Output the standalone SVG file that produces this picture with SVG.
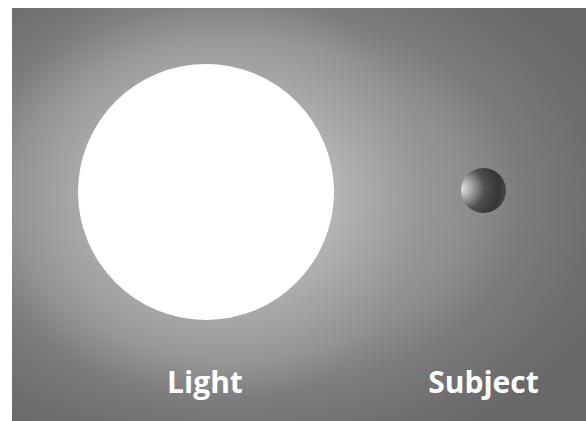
<svg xmlns="http://www.w3.org/2000/svg" width="586" height="421" viewBox="0 0 586 421">
<defs>
<radialGradient id="bg" gradientUnits="userSpaceOnUse" cx="0" cy="0" r="1" gradientTransform="translate(240 200) scale(400 280)">
<stop offset="0" stop-color="#b8b8b8"/>
<stop offset="0.235" stop-color="#a8a8a8"/>
<stop offset="0.405" stop-color="#9a9a9a"/>
<stop offset="0.57" stop-color="#8e8e8e"/>
<stop offset="0.7" stop-color="#7c7c7c"/>
<stop offset="0.89" stop-color="#6e6e6e"/>
<stop offset="1" stop-color="#686868"/>
</radialGradient>
<radialGradient id="halo" gradientUnits="userSpaceOnUse" cx="206" cy="192" r="220">
<stop offset="0.58" stop-color="#ffffff" stop-opacity="0.14"/>
<stop offset="1" stop-color="#ffffff" stop-opacity="0"/>
</radialGradient>
<radialGradient id="ball" cx="0.1" cy="0.45" r="0.95" fx="0.0" fy="0.45">
<stop offset="0" stop-color="#e6e6e6"/>
<stop offset="0.22" stop-color="#a8a8a8"/>
<stop offset="0.5" stop-color="#505050"/>
<stop offset="0.8" stop-color="#363636"/>
<stop offset="1" stop-color="#4a4a4a"/>
</radialGradient>
<style>
.lbl{font-family:"Open Sans","Liberation Sans",sans-serif;font-weight:bold;font-size:30px;fill:#ffffff;}
</style>
</defs>
<rect x="12" y="8" width="574" height="413" fill="url(#bg)"/>
<rect x="12" y="8" width="574" height="413" fill="url(#halo)"/>
<g id="light">
<circle cx="206" cy="192" r="128" fill="#ffffff"/>
<text class="lbl" x="205" y="393" text-anchor="middle">Light</text>
</g>
<g id="subject">
<circle cx="483.5" cy="190.5" r="22.5" fill="url(#ball)"/>
<text class="lbl" x="483.5" y="393" text-anchor="middle">Subject</text>
</g>
<g id="connectors"/>
</svg>
